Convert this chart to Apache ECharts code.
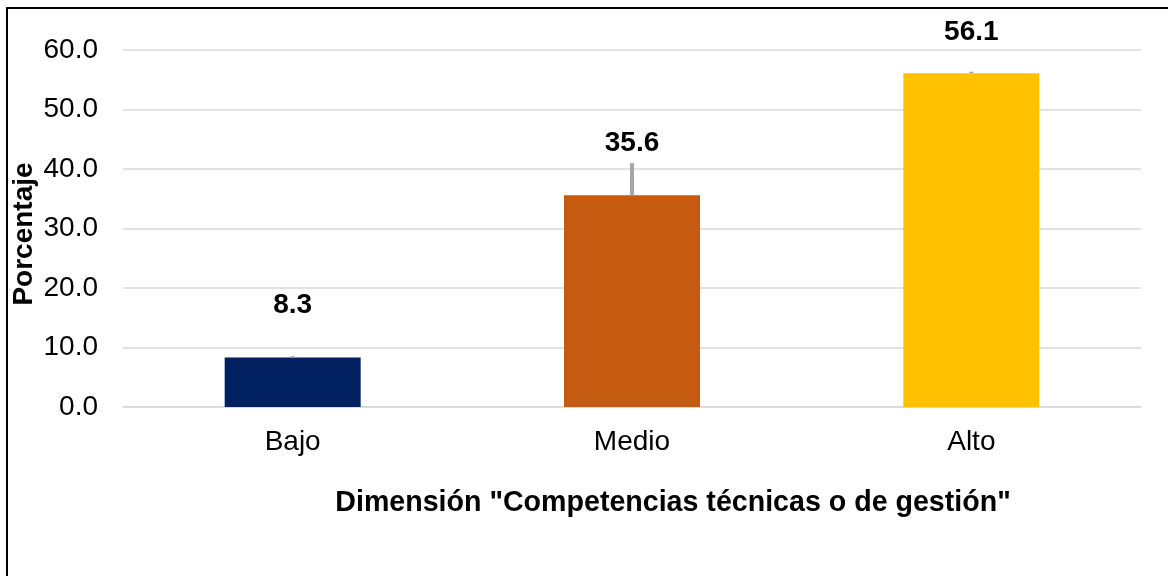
<!DOCTYPE html>
<html>
<head>
<meta charset="utf-8">
<script src="https://cdn.jsdelivr.net/npm/echarts@6/dist/echarts.min.js"></script>
<style>
    html, body { margin: 0; padding: 0; background: #fff; }
    #chart { width: 1168px; height: 576px; }
</style>
</head>
<body>
<div id="chart"></div>
<script>
// datos del grafico
var categories = ['Bajo', 'Medio', 'Alto'];
var percentValues = [8.3, 35.6, 56.1];
var errorTop = [8.3, 41.0, 56.1];
var barColors = ['#002060', '#C55A11', '#FFC000'];
var yTicks = [0, 10, 20, 30, 40, 50, 60];

var fontName = '"Liberation Sans", Arial, sans-serif';

var myChart = echarts.init(document.getElementById('chart'));

var barData = [];
for (var i = 0; i < percentValues.length; i++) {
    barData.push({
        value: percentValues[i],
        itemStyle: { color: barColors[i] },
        label: { distance: i == 2 ? 27 : 38 }
    });
}

var errData = [];
for (var j = 0; j < categories.length; j++) {
    errData.push([j, percentValues[j], errorTop[j]]);
}

var option = {
    animation: false,
    backgroundColor: '#fff',
    grid: { left: 123, right: 27, top: 50, bottom: 169 },
    xAxis: {
        type: 'category',
        data: categories,
        axisLine: { lineStyle: { color: '#D9D9D9', width: 1.5 } },
        axisTick: { show: false },
        axisLabel: { color: '#000', fontSize: 28, fontFamily: fontName, margin: 21 }
    },
    yAxis: {
        type: 'value',
        min: yTicks[0],
        max: yTicks[yTicks.length - 1],
        interval: yTicks[1] - yTicks[0],
        axisLine: { show: false },
        axisTick: { show: false },
        splitLine: { lineStyle: { color: '#D9D9D9', width: 1.5 } },
        axisLabel: {
            color: '#000', fontSize: 28, fontFamily: fontName, margin: 25,
            formatter: function (v) { return v.toFixed(1); }
        }
    },
    series: [
        {
            type: 'bar',
            data: barData,
            barWidth: 136,
            label: {
                show: true,
                position: 'top',
                color: '#000',
                fontSize: 28,
                fontWeight: 'bold',
                fontFamily: fontName,
                formatter: function (p) { return p.value.toFixed(1); }
            }
        },
        {
            // barra de error
            type: 'custom',
            data: errData,
            z: 5,
            renderItem: function (params, api) {
                var p1 = api.coord([api.value(0), api.value(1)]);
                var p2 = api.coord([api.value(0), api.value(2)]);
                if (Math.abs(p1[1] - p2[1]) < 1) {
                    p2[1] = p1[1] - 1.5;
                }
                return {
                    type: 'line',
                    shape: { x1: p1[0], y1: p1[1], x2: p2[0], y2: p2[1] },
                    style: { stroke: '#A6A6A6', lineWidth: 4 }
                };
            }
        }
    ],
    graphic: [
        {
            type: 'rect',
            shape: { x: 7, y: 8, width: 1200, height: 600 },
            style: { fill: 'none', stroke: '#000', lineWidth: 2 },
            silent: true
        },
        {
            type: 'text',
            x: 24,
            y: 234,
            rotation: Math.PI / 2,
            style: {
                text: 'Porcentaje',
                fill: '#000',
                font: 'bold 28px ' + fontName,
                textAlign: 'center',
                textVerticalAlign: 'middle'
            }
        },
        {
            type: 'text',
            x: 673,
            y: 503,
            style: {
                text: 'Dimensión "Competencias técnicas o de gestión"',
                fill: '#000',
                font: 'bold 28.6px ' + fontName,
                textAlign: 'center',
                textVerticalAlign: 'middle'
            }
        }
    ]
};

myChart.setOption(option);
</script>
</body>
</html>
